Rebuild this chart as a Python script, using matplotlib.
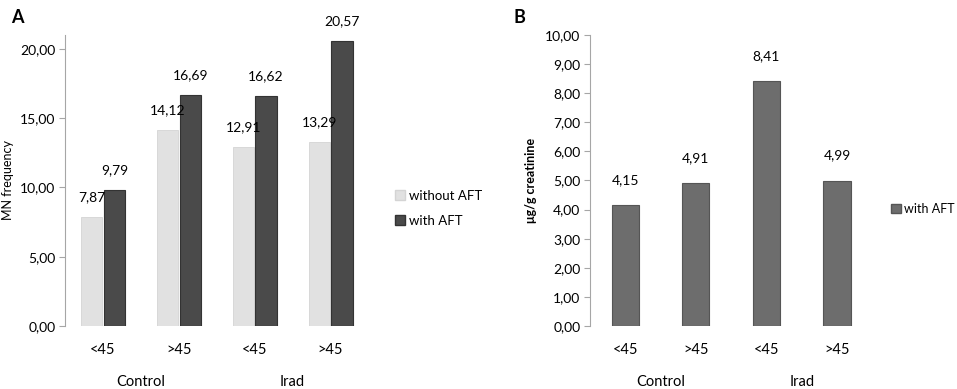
import matplotlib.pyplot as plt
from matplotlib.patches import Patch

plt.rcParams['font.family'] = ['Lato', 'DejaVu Sans']

# data
age_groups = ['<45', '>45', '<45', '>45']
groups = ['Control', 'Irad']
mn_without = [7.87, 14.12, 12.91, 13.29]
mn_with = [9.79, 16.69, 16.62, 20.57]
afb_with = [4.15, 4.91, 8.41, 4.99]

light = '#e1e1e1'
dark = '#4a4a4a'
mid = '#6d6d6d'
axis_col = '#a6a6a6'


def fmt(v):
    return f'{v:.2f}'.replace('.', ',')


def style_axis(ax, ticks):
    for s in ['top', 'right', 'bottom']:
        ax.spines[s].set_visible(False)
    ax.spines['left'].set_color(axis_col)
    ax.set_yticks(ticks)
    ax.set_yticklabels([fmt(t) for t in ticks], fontsize=10)
    ax.tick_params(axis='y', color=axis_col, length=4, pad=3)
    ax.tick_params(axis='x', length=0, pad=12, labelsize=10.5)
    ax.set_xticks(range(len(age_groups)))
    ax.set_xticklabels(age_groups)
    ax.set_xlim(-0.5, 3.5)
    # group labels below
    for i, g in enumerate(groups):
        ax.annotate(g, xy=(2 * i + 0.5, 0), xycoords=('data', 'axes fraction'),
                    xytext=(0, -40), textcoords='offset points',
                    ha='center', va='center', fontsize=10.5)


fig = plt.figure(figsize=(9.57, 3.89), dpi=100)

# panel A
axA = fig.add_axes([0.068, 0.162, 0.317, 0.748])
x = range(len(age_groups))
w = 0.28
gap = 0.02
bw = axA.bar([i - w / 2 - gap / 2 for i in x], mn_without, w, color=light, edgecolor='#d4d4d4', linewidth=0.6)
bd = axA.bar([i + w / 2 + gap / 2 for i in x], mn_with, w, color=dark, edgecolor='#333333', linewidth=0.8)
axA.set_ylim(0, 21)
style_axis(axA, [0, 5, 10, 15, 20])
axA.set_ylabel('MN frequency', fontsize=9, labelpad=4)
for b, v in zip(bw, mn_without):
    axA.annotate(fmt(v), (b.get_x() + b.get_width() / 2, v), xytext=(0, 10),
                 textcoords='offset points', ha='center', va='bottom', fontsize=10)
for b, v in zip(bd, mn_with):
    axA.annotate(fmt(v), (b.get_x() + b.get_width() / 2, v), xytext=(0, 10),
                 textcoords='offset points', ha='center', va='bottom', fontsize=10)
fig.text(0.012, 0.955, 'A', fontsize=13, fontweight='bold', ha='left', va='center')
fig.legend(handles=[Patch(facecolor=light, edgecolor='#d4d4d4', label='without AFT'),
                    Patch(facecolor=dark, edgecolor='#333333', label='with AFT')],
           loc='center left', bbox_to_anchor=(0.400, 0.465), frameon=False,
           fontsize=9.5, handlelength=0.8, handleheight=0.8, handletextpad=0.3,
           labelspacing=1.0)

# panel B
axB = fig.add_axes([0.6165, 0.162, 0.295, 0.748])
bb = axB.bar(list(x), afb_with, 0.385, color=mid, edgecolor='#555555', linewidth=0.8)
axB.set_ylim(0, 10)
style_axis(axB, list(range(11)))
axB.set_ylabel('μg/g creatinine', fontsize=9, fontweight='bold', labelpad=6)
for b, v in zip(bb, afb_with):
    axB.annotate(fmt(v), (b.get_x() + b.get_width() / 2, v), xytext=(0, 14),
                 textcoords='offset points', ha='center', va='bottom', fontsize=10)
fig.text(0.537, 0.955, 'B', fontsize=13, fontweight='bold', ha='left', va='center')
fig.legend(handles=[Patch(facecolor=mid, edgecolor='#555555', label='with AFT')],
           loc='center left', bbox_to_anchor=(0.928, 0.463), frameon=False,
           fontsize=9, handlelength=0.8, handleheight=0.8, handletextpad=0.3,
           borderaxespad=0, borderpad=0.2)

fig.savefig('out.png', dpi=100)
